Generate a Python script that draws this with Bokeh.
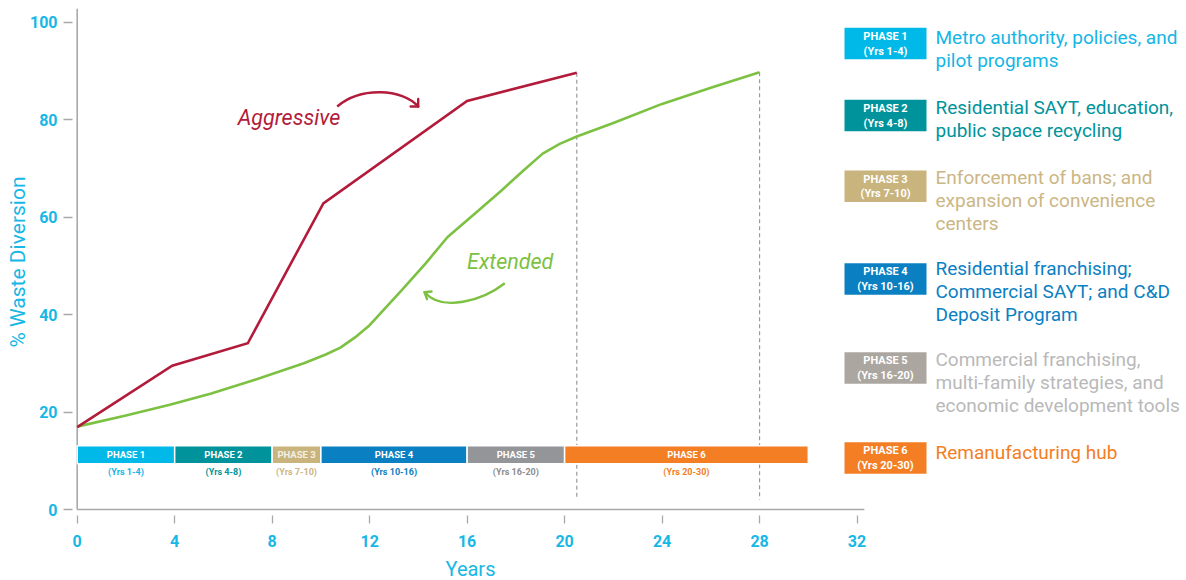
from bokeh.plotting import figure
from bokeh.models import Range1d, FixedTicker, Title
from bokeh.core.properties import value
from bokeh.embed import file_html
from bokeh.resources import INLINE

# ---------------- data ----------------
years_aggr = [0, 3.9, 7.0, 10.1, 16.0, 20.5]
div_aggr = [16.9, 29.5, 34.1, 62.8, 83.8, 89.6]

years_ext = [0, 2, 3.8, 5.5, 7.1, 8.3, 9.3, 10.2, 10.8, 11.4, 12.0, 13.3, 14.3,
             15.2, 16.3, 17.4, 18.3, 19.1, 19.8, 20.5, 22, 24, 26, 28]
div_ext = [17.0, 19.3, 21.5, 23.8, 26.3, 28.3, 30.0, 31.8, 33.2, 35.3, 37.8, 44.9, 50.5,
           55.9, 60.6, 65.4, 69.5, 73.0, 75.0, 76.5, 79.3, 83.2, 86.5, 89.7]

phase_names = ["PHASE 1", "PHASE 2", "PHASE 3", "PHASE 4", "PHASE 5", "PHASE 6"]
phase_years = ["(Yrs 1-4)", "(Yrs 4-8)", "(Yrs 7-10)", "(Yrs 10-16)", "(Yrs 16-20)", "(Yrs 20-30)"]
phase_start = [0, 4, 8, 10, 16, 20]
phase_end = [4, 8, 10, 16, 20, 30]
phase_desc = [
    ["Metro authority, policies, and", "pilot programs"],
    ["Residential SAYT, education,", "public space recycling"],
    ["Enforcement of bans; and", "expansion of convenience", "centers"],
    ["Residential franchising;", "Commercial SAYT; and C&D", "Deposit Program"],
    ["Commercial franchising,", "multi-family strategies, and", "economic development tools"],
    ["Remanufacturing hub"],
]
x_ticks = [0, 4, 8, 12, 16, 20, 24, 28, 32]
y_ticks = [0, 20, 40, 60, 80, 100]

# ---------------- styles ----------------
FONT = "Roboto"
CYAN = "#17b7e6"
RED = "#b31b3b"
GREEN = "#7cc142"
AXIS_GRAY = "#a9a9a9"
bar_colors = ["#00b9e8", "#00939b", "#c9b47e", "#0a80c3", "#939598", "#f37e23"]
box_colors = ["#00b9e8", "#00939b", "#c9b47e", "#0a80c3", "#aba69f", "#f37e23"]
desc_colors = ["#14b6e6", "#00939b", "#cbb684", "#0a80c3", "#b9b9b9", "#f37e23"]
yrs_colors = ["#14b6e6", "#00939b", "#cbb684", "#0a80c3", "#8d8d8d", "#f37e23"]
bar_text_alpha = [1, 1, 0.8, 1, 1, 1]

# layout constants (pixel based, page coordinates)
W, H = 1186, 580
X0_PX, UNIT_X = 76.7, 24.37
Y0_PX, UNIT_Y = 509.0, 4.875
FRAME_L, FRAME_R, FRAME_T, FRAME_B = 72, 1186, 8, 515

p = figure(width=W, height=H,
           x_range=Range1d((FRAME_L - X0_PX) / UNIT_X, (FRAME_R - X0_PX) / UNIT_X),
           y_range=Range1d((Y0_PX - FRAME_B) / UNIT_Y, (Y0_PX - FRAME_T) / UNIT_Y),
           output_backend="svg", toolbar_location=None,
           min_border_left=FRAME_L, min_border_right=W - FRAME_R,
           min_border_top=FRAME_T, min_border_bottom=H - FRAME_B)
p.extra_x_ranges = {"px": Range1d(FRAME_L, FRAME_R)}
p.extra_y_ranges = {"py": Range1d(FRAME_B, FRAME_T)}
p.outline_line_color = None
p.xgrid.visible = False
p.ygrid.visible = False
p.background_fill_color = "white"
p.border_fill_color = "white"

for ax, ticks, tout, stand in ((p.xaxis, x_ticks, 8, 11), (p.yaxis, y_ticks, 9, 6)):
    ax.ticker = FixedTicker(ticks=ticks)
    ax.axis_line_color = None
    ax.major_tick_in = 0
    ax.major_tick_out = tout
    ax.major_tick_line_color = AXIS_GRAY
    ax.major_tick_line_width = 1.3
    ax.minor_tick_line_color = None
    ax.major_label_text_font = FONT
    ax.major_label_text_font_size = "16px"
    ax.major_label_text_font_style = "bold"
    ax.major_label_text_color = CYAN
    ax.major_label_standoff = stand

p.yaxis.axis_label = "% Waste Diversion"
p.yaxis.axis_label_text_font = FONT
p.yaxis.axis_label_text_font_size = "21px"
p.yaxis.axis_label_text_font_style = "normal"
p.yaxis.axis_label_text_color = CYAN
p.yaxis.axis_label_standoff = -3

# spacer label so that the "Years" title sits a little lower
p.xaxis.axis_label = " "
p.xaxis.axis_label_text_font_size = "1px"
p.xaxis.axis_label_standoff = 1

p.add_layout(Title(text="Years", align="left", offset=373, text_font=FONT,
                   text_font_size="20px", text_font_style="normal", text_color=CYAN,
                   standoff=0), "below")

# axis lines
p.segment(x0=[0, 0], y0=[0, 0], x1=[x_ticks[-1] + 0.3, 0], y1=[0, p.y_range.end],
          line_color=AXIS_GRAY, line_width=1.6)

# dashed drop lines
p.segment(x0=[years_aggr[-1], years_ext[-1]], y0=[div_aggr[-1], div_ext[-1]],
          x1=[years_aggr[-1], years_ext[-1]], y1=[2.0, 2.0],
          line_color="#9a9a9a", line_width=1.2, line_dash="4 3")

# series lines
p.line(years_ext, div_ext, line_color=GREEN, line_width=2.6, line_join="round")
p.line(years_aggr, div_aggr, line_color=RED, line_width=2.6, line_join="miter")

# phase bar
BAR_B, BAR_T = 9.4, 13.1
p.quad(left=phase_start, right=phase_end, bottom=BAR_B, top=BAR_T,
       fill_color=bar_colors, line_color="white", line_width=1.5)
mid = [(a + b) / 2 for a, b in zip(phase_start, phase_end)]
p.text(x=mid, y=[11.3] * 6, text=phase_names, text_color="white", alpha=bar_text_alpha,
       text_font=value(FONT), text_font_size="9.5px", text_font_style="bold",
       text_align="center", text_baseline="middle")
p.text(x=mid, y=[7.6] * 6, text=phase_years, text_color=yrs_colors,
       text_font=value(FONT), text_font_size="9px", text_font_style="bold",
       text_align="center", text_baseline="middle")

# scenario annotations with arrows
p.text(x=[288.5], y=[116.7], text=["Aggressive"], text_color=RED,
       text_font=value(FONT), text_font_size="21.5px", text_font_style="italic",
       text_align="center", text_baseline="middle", x_range_name="px", y_range_name="py")
p.text(x=[509.7], y=[260.7], text=["Extended"], text_color=GREEN,
       text_font=value(FONT), text_font_size="21.5px", text_font_style="italic",
       text_align="center", text_baseline="middle", x_range_name="px", y_range_name="py")
p.bezier(x0=[336.7], y0=[106], x1=[417.7], y1=[106], cx0=[360], cy0=[86], cx1=[402], cy1=[88],
         line_color=RED, line_width=2.4, x_range_name="px", y_range_name="py")
p.segment(x0=[417.7, 417.7], y0=[106, 106], x1=[417.7, 410.2], y1=[98.5, 106],
          line_color=RED, line_width=2.4, line_cap="round", x_range_name="px", y_range_name="py")
p.bezier(x0=[504.3], y0=[282.7], x1=[424], y1=[291.7], cx0=[482], cy0=[300], cx1=[442], cy1=[312],
         line_color=GREEN, line_width=2.4, x_range_name="px", y_range_name="py")
p.segment(x0=[424, 424], y0=[291.7, 291.7], x1=[431, 426.5], y1=[291.0, 298.7],
          line_color=GREEN, line_width=2.4, line_cap="round", x_range_name="px", y_range_name="py")

# right-hand legend
box_top = [27.3, 99.3, 170, 262.7, 351.7, 441.7]
desc_first = [37.3, 107, 176.7, 268, 359, 451.7]
BOX_L, BOX_R, BOX_H, LINE_H, DESC_X = 844, 926, 31.5, 23, 935
p.quad(left=[BOX_L] * 6, right=[BOX_R] * 6, top=box_top, bottom=[t + BOX_H for t in box_top],
       fill_color=box_colors, line_color=None, x_range_name="px", y_range_name="py")
bx = [(BOX_L + BOX_R) / 2] * 6
p.text(x=bx, y=[t + 8.7 for t in box_top], text=phase_names, text_color="white",
       text_font=value(FONT), text_font_size="11px", text_font_style="bold",
       text_align="center", text_baseline="middle", x_range_name="px", y_range_name="py")
p.text(x=bx, y=[t + 23.2 for t in box_top], text=phase_years, text_color="white",
       text_font=value(FONT), text_font_size="11px", text_font_style="bold",
       text_align="center", text_baseline="middle", x_range_name="px", y_range_name="py")
dx, dy, dt, dc = [], [], [], []
for i, lines in enumerate(phase_desc):
    for j, ln in enumerate(lines):
        dx.append(DESC_X)
        dy.append(desc_first[i] + j * LINE_H)
        dt.append(ln)
        dc.append(desc_colors[i])
p.text(x=dx, y=dy, text=dt, text_color=dc, text_font=value(FONT), text_font_size="19px",
       text_align="left", text_baseline="middle", x_range_name="px", y_range_name="py")

open("out.html", "w").write(file_html(p, INLINE))
